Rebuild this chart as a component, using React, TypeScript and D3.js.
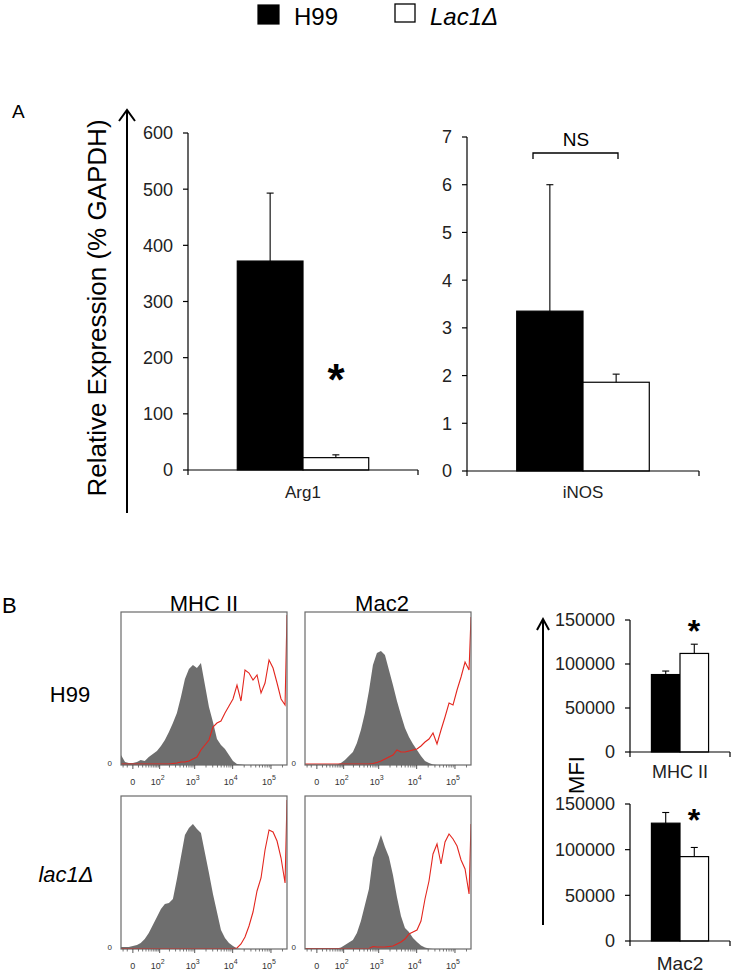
import React from 'react';
import * as d3 from 'd3';

const W = 734;
const H = 973;
const FONT = "'Liberation Sans', Arial, sans-serif";

// ---------- groups / legend ----------
const groups = ['H99', 'Lac1Δ'];
const groupFill = ['#000000', '#ffffff'];

// ---------- Panel A ----------
const argCategory = 'Arg1';
const argMean = [372, 22];
const argErr = [121, 5];
const argTicks = [0, 100, 200, 300, 400, 500, 600];

const inosCategory = 'iNOS';
const inosMean = [3.35, 1.86];
const inosErr = [2.65, 0.17];
const inosTicks = [0, 1, 2, 3, 4, 5, 6, 7];

// ---------- Panel B : MFI ----------
const mfiCategories = ['MHC II', 'Mac2'];
const mhcMfi = [88000, 112000];
const mhcMfiErr = [4000, 10500];
const mac2Mfi = [129000, 92400];
const mac2MfiErr = [11700, 10000];
const mfiTicks = [0, 50000, 100000, 150000];

// ---------- Panel B : histograms ----------
const histMarkers = ['MHC II', 'Mac2'];
const histStrains = ['H99', 'lac1Δ'];
// bin centres (fluorescence intensity)
const histBins = [
  -26, -15, -7, 0, 7, 15, 26, 40, 58, 81, 110, 146, 193, 252, 327, 423, 545, 700,
  897, 1148, 1467, 1873, 2389, 3045, 3880, 4943, 6293, 8012, 10197, 12977, 16515,
  21012, 26735, 34015, 43275, 55050, 70025, 89100, 113325, 144150, 183375, 233275, 262144,
];
const histTickValues = [0, 100, 1000, 10000, 100000];
const histTickExp = ['', '2', '3', '4', '5'];

// counts (isotype control = grey, stained = red)
const mhcH99Iso = [10, 3, 2, 2, 3, 5, 4, 8, 11, 14, 19, 25, 33, 42, 52, 68, 86, 96, 100, 97, 102, 80, 58, 43, 26, 20, 16, 10, 4, 1, 0.5, 0, 0, 0, 0, 0, 0, 0, 0, 0, 0, 0, 0];
const mhcH99Stain = [1, 1, 1, 1, 1, 1, 1, 1, 1, 1, 1, 1, 1, 1.5, 2, 3, 3, 4, 6, 8, 15, 20, 25, 38, 42, 44, 52, 59, 66, 80, 64, 95, 92, 85, 90, 72, 82, 105, 97, 82, 66, 60, 150];
const mac2H99Iso = [0.5, 0.5, 0.5, 0.5, 0.5, 0.5, 0.5, 0.5, 0.5, 2, 5, 9, 13, 22, 35, 52, 74, 100, 112, 114, 110, 95, 80, 64, 50, 37, 28, 21, 15, 9, 4, 2, 0.5, 0, 0, 0, 0, 0, 0, 0, 0, 0, 0];
const mac2H99Stain = [1, 1, 1, 1, 1, 1, 1, 1, 1, 1, 1, 1, 1, 1, 1, 1, 1, 1.5, 2.5, 4, 6, 8, 10, 15, 13, 13, 14, 15, 16, 19, 23, 26, 32, 21, 35, 48, 62, 60, 75, 88, 103, 95, 148];
const mhcLacIso = [2, 2, 2, 3, 4, 6, 10, 16, 24, 32, 40, 45, 46, 50, 70, 92, 114, 121, 125, 120, 116, 96, 76, 55, 37, 19, 11, 6, 3, 0.5, 0, 0, 0, 0, 0, 0, 0, 0, 0, 0, 0, 0, 0];
const mhcLacStain = [0.5, 0.5, 0.5, 0.5, 0.5, 0.5, 0.5, 0.5, 0.5, 0.5, 0.5, 0.5, 0.5, 0.5, 0.5, 0.5, 0.5, 0.5, 0.5, 0.5, 0.5, 0.5, 0.5, 0.5, 0.5, 0.5, 0.5, 0.5, 0.5, 1, 5, 12, 23, 37, 58, 71, 99, 119, 117, 108, 91, 66, 149];
const mac2LacIso = [0.5, 0.5, 0.5, 0.5, 0.5, 0.5, 0.5, 0.5, 0.5, 1.5, 4, 6.5, 9, 16, 28, 44, 60, 91, 102, 114, 102, 92, 74, 52, 33, 21, 17, 11, 7, 3.5, 1.5, 0.5, 0, 0, 0, 0, 0, 0, 0, 0, 0, 0, 0];
const mac2LacStain = [0.5, 0.5, 0.5, 0.5, 0.5, 0.5, 0.5, 0.5, 0.5, 0.5, 0.5, 0.5, 0.5, 0.5, 0.5, 0.5, 0.5, 2.5, 2, 2, 2, 2.5, 3, 5, 7, 10, 15, 17, 19, 28, 50, 68, 95, 105, 85, 107, 115, 110, 103, 89, 80, 55, 125];

// ---------- components ----------
type BarProps = {
  category: string;
  means: number[];
  errs: number[];
  ticks: number[];
  yMax: number;
  xRange: [number, number];
  yRange: [number, number];
  tickFont: number;
  catFont: number;
  catBaseline: number;
};

function BarChart(p: BarProps) {
  const y = d3.scaleLinear().domain([0, p.yMax]).range(p.yRange);
  const xb = d3.scaleBand<string>().domain([p.category]).range(p.xRange).paddingInner(0).paddingOuter(0.375);
  const xg = d3.scaleBand<string>().domain(groups).range([0, xb.bandwidth()]);
  const x0 = p.xRange[0];
  const base = y(0);
  const bx = xb(p.category) as number;
  return (
    <g>
      {p.means.map((m, i) => (
        <rect key={'b' + i} x={bx + (xg(groups[i]) as number)} y={y(m)} width={xg.bandwidth()} height={base - y(m)}
          fill={groupFill[i]} stroke="#000" strokeWidth={1.2} />
      ))}
      {p.means.map((m, i) => {
        const cx = bx + (xg(groups[i]) as number) + xg.bandwidth() / 2;
        return (
          <g key={'e' + i} stroke="#000" strokeWidth={1.1}>
            <line x1={cx} x2={cx} y1={y(m)} y2={y(m + p.errs[i])} />
            <line x1={cx - 3.5} x2={cx + 3.5} y1={y(m + p.errs[i])} y2={y(m + p.errs[i])} />
          </g>
        );
      })}
      <line x1={x0} x2={x0} y1={base} y2={y(p.yMax)} stroke="#000" strokeWidth={1.2} />
      <line x1={x0} x2={p.xRange[1]} y1={base} y2={base} stroke="#000" strokeWidth={1.2} />
      <line x1={x0} x2={x0} y1={base} y2={base + 5} stroke="#000" strokeWidth={1.2} />
      <line x1={p.xRange[1]} x2={p.xRange[1]} y1={base} y2={base + 5} stroke="#000" strokeWidth={1.2} />
      {p.ticks.map((t) => (
        <g key={'t' + t}>
          <line x1={x0 - 5} x2={x0} y1={y(t)} y2={y(t)} stroke="#000" strokeWidth={1.2} />
          <text x={x0 - 15} y={y(t)} dy="0.36em" textAnchor="end" fontSize={p.tickFont} fill="#222">{String(t)}</text>
        </g>
      ))}
      <text x={bx + xb.bandwidth() / 2} y={p.catBaseline} textAnchor="middle" fontSize={p.catFont} fill="#222">{p.category}</text>
    </g>
  );
}

type HistProps = { left: number; top: number; iso: number[]; stain: number[]; id: string };

function Histogram({ left, top, iso, stain, id }: HistProps) {
  const w = 166;
  const h = 153;
  const x = d3.scaleSymlog().constant(25).domain([-26, 262144]).range([left, left + w]);
  const y = d3.scaleLinear().domain([0, 153]).range([top + h, top]);
  const area = d3.area<number>().x((_, i) => x(histBins[i])).y0(y(0)).y1((d) => y(d));
  const line = d3.line<number>().x((_, i) => x(histBins[i])).y((d) => y(d));
  const minor: number[] = [-20, -10, 10, 20, 30, 40, 50, 60, 70, 80, 90];
  [100, 1000, 10000, 100000].forEach((dec) => {
    for (let m = 2; m <= 9; m++) if (m * dec <= 262144) minor.push(m * dec);
  });
  const bottom = top + h;
  return (
    <g>
      <defs>
        <clipPath id={id}>
          <rect x={left} y={top - 1} width={w} height={h + 1} />
        </clipPath>
      </defs>
      <g clipPath={`url(#${id})`}>
        <path d={area(iso) || ''} fill="#6e6e6e" />
        <path d={line(stain) || ''} fill="none" stroke="#e3261e" strokeWidth={1.1} />
      </g>
      <rect x={left} y={top} width={w} height={h} fill="none" stroke="#6a6a6a" strokeWidth={1.2} />
      {minor.map((v) => (
        <line key={'m' + v} x1={x(v)} x2={x(v)} y1={bottom} y2={bottom + 2.5} stroke="#555" strokeWidth={0.8} />
      ))}
      {histTickValues.map((v, i) => (
        <g key={'M' + v}>
          <line x1={x(v)} x2={x(v)} y1={bottom} y2={bottom + 4} stroke="#444" strokeWidth={0.9} />
          {i === 0 ? (
            <text x={x(v)} y={bottom + 20} textAnchor="middle" fontSize={9} fill="#333">0</text>
          ) : (
            <text x={x(v) - 2} y={bottom + 20} textAnchor="middle" fontSize={9} fill="#333">
              10<tspan dy={-5} fontSize={7}>{histTickExp[i]}</tspan>
            </text>
          )}
        </g>
      ))}
      <text x={left - 9} y={bottom + 1} textAnchor="end" fontSize={8} fill="#333">0</text>
    </g>
  );
}

export default function App() {
  const histLefts = [121, 305];
  const histTops = [612, 796];
  const histData = [
    [mhcH99Iso, mhcH99Stain, mac2H99Iso, mac2H99Stain],
    [mhcLacIso, mhcLacStain, mac2LacIso, mac2LacStain],
  ];
  return (
    <svg width={W} height={H} style={{ position: 'absolute', left: 0, top: 0 }} fontFamily={FONT}>
      <rect width={W} height={H} fill="#fff" />

      {/* Legend */}
      <rect x={258} y={5} width={21} height={19} fill={groupFill[0]} stroke="#000" strokeWidth={1.2} />
      <text x={294} y={25} fontSize={24} fill="#000">{groups[0]}</text>
      <rect x={395} y={4} width={20} height={18} fill={groupFill[1]} stroke="#000" strokeWidth={1.3} />
      <text x={430} y={25} fontSize={24} fontStyle="italic" fill="#000">{groups[1]}</text>

      {/* Panel A */}
      <text x={12} y={118} fontSize={19} fill="#000">A</text>
      <line x1={127} x2={127} y1={513} y2={111} stroke="#000" strokeWidth={2} />
      <path d="M119,121 L127,110 L135,121" fill="none" stroke="#000" strokeWidth={2} />
      <text transform="translate(106,308) rotate(-90)" textAnchor="middle" fontSize={26} fill="#000">
        Relative Expression (% GAPDH)
      </text>

      <BarChart category={argCategory} means={argMean} errs={argErr} ticks={argTicks} yMax={600}
        xRange={[188, 418]} yRange={[470, 133]} tickFont={18} catFont={17} catBaseline={498} />
      <text x={336} y={395} textAnchor="middle" fontSize={44} fontWeight="bold" fill="#000">*</text>

      <BarChart category={inosCategory} means={inosMean} errs={inosErr} ticks={inosTicks} yMax={7}
        xRange={[467, 699]} yRange={[471, 137]} tickFont={18} catFont={17} catBaseline={498} />
      <path d="M533,159 L533,153 L618,153 L618,159" fill="none" stroke="#000" strokeWidth={1.3} />
      <text x={576} y={146} textAnchor="middle" fontSize={19} fill="#000">NS</text>

      {/* Panel B */}
      <text x={2} y={613} fontSize={22} fill="#000">B</text>
      <text x={204} y={611} textAnchor="middle" fontSize={22} fill="#000">{histMarkers[0]}</text>
      <text x={382} y={611} textAnchor="middle" fontSize={22} fill="#000">{histMarkers[1]}</text>
      <text x={70} y={702} textAnchor="middle" fontSize={22} fill="#000">{histStrains[0]}</text>
      <text x={66} y={882} textAnchor="middle" fontSize={22} fontStyle="italic" fill="#000">{histStrains[1]}</text>

      {histData.map((row, r) => (
        <g key={'row' + r}>
          <Histogram id={`c${r}0`} left={histLefts[0]} top={histTops[r]} iso={row[0]} stain={row[1]} />
          <Histogram id={`c${r}1`} left={histLefts[1]} top={histTops[r]} iso={row[2]} stain={row[3]} />
        </g>
      ))}

      {/* MFI */}
      <line x1={543} x2={543} y1={925} y2={620} stroke="#000" strokeWidth={2} />
      <path d="M537,630 L543,619 L549,630" fill="none" stroke="#000" strokeWidth={2} />
      <text transform="translate(584,775) rotate(-90)" textAnchor="middle" fontSize={22} fill="#000">MFI</text>

      <BarChart category={mfiCategories[0]} means={mhcMfi} errs={mhcMfiErr} ticks={mfiTicks} yMax={150000}
        xRange={[630, 730]} yRange={[752, 620]} tickFont={18} catFont={18} catBaseline={778} />
      <text x={694} y={642} textAnchor="middle" fontSize={32} fontWeight="bold" fill="#000">*</text>

      <BarChart category={mfiCategories[1]} means={mac2Mfi} errs={mac2MfiErr} ticks={mfiTicks} yMax={150000}
        xRange={[630, 730]} yRange={[941, 804]} tickFont={18} catFont={19} catBaseline={970} />
      <text x={694} y={831} textAnchor="middle" fontSize={32} fontWeight="bold" fill="#000">*</text>
    </svg>
  );
}
